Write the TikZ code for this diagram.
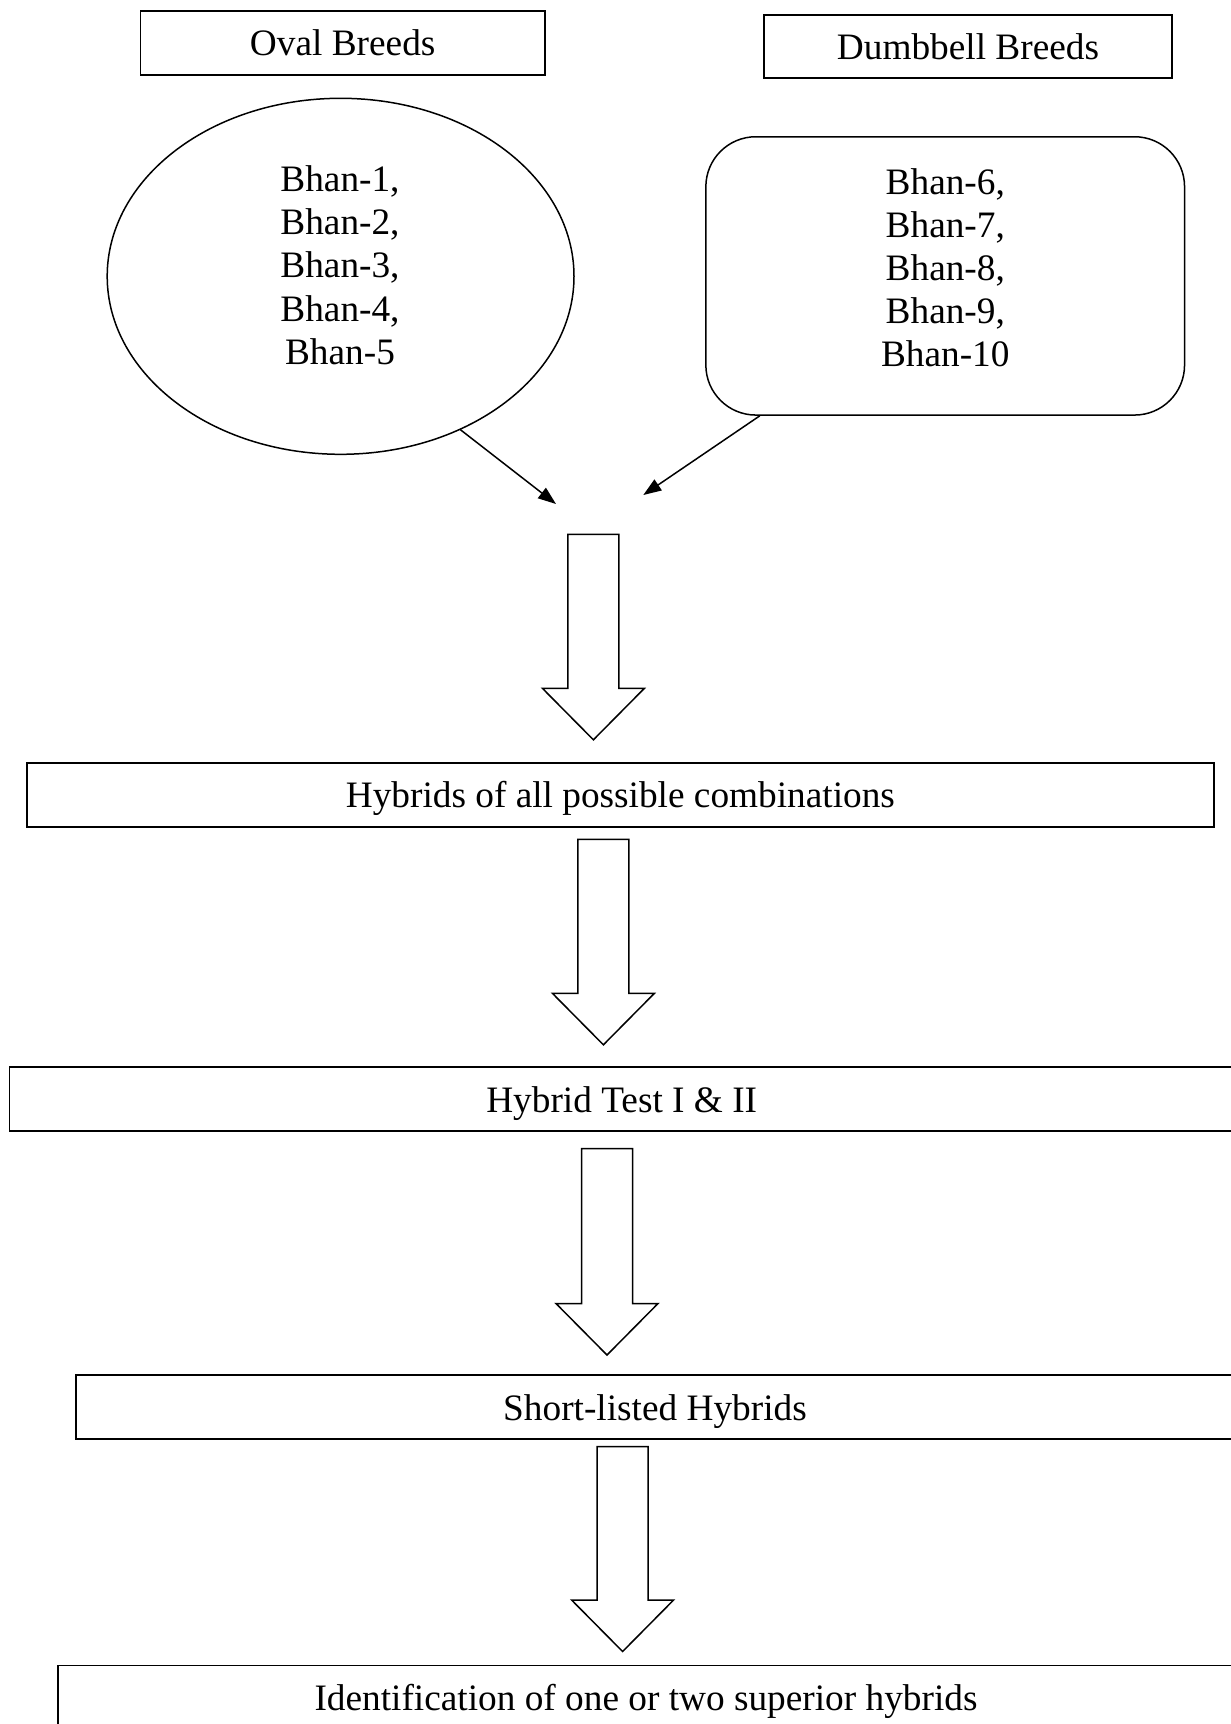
\documentclass[tikz,border=0pt]{standalone}
\usepackage{fontspec}
\setmainfont{Liberation Serif}
\usetikzlibrary{arrows.meta,calc,shapes.geometric}

% hollow downward block arrow: #1 = centre x, #2 = top y, #3 = tip y
\newcommand\hollowdown[3]{%
  \draw[blockline] (#1-25.5,#2) -- (#1+25.5,#2) -- (#1+25.5,#3-51.5)
    -- (#1+51,#3-51.5) -- (#1,#3) -- (#1-51,#3-51.5)
    -- (#1-25.5,#3-51.5) -- cycle;}

\begin{document}
\begin{tikzpicture}[x=1pt,y=-1pt,
  every node/.style={font=\fontsize{37.3}{43.1}\selectfont},
  boxline/.style={draw=black,line width=1.8pt},
  blockline/.style={draw=black,line width=1.5pt,line join=miter},
  titlebox/.style={boxline,rectangle,inner sep=0pt,text height=26pt,text depth=0pt},
  stagebox/.style={boxline,rectangle,inner sep=0pt,minimum height=64pt,text height=26pt,text depth=0pt},
  linkarrow/.style={line width=1.5pt,-{Triangle[length=18pt,width=13pt]}},
  listtext/.style={anchor=base,inner sep=0pt}]
\clip (0,0) rectangle (1231,1724);
\fill[white] (0,0) rectangle (1231,1724);

% group headings
\node[titlebox,minimum width=404.6pt,minimum height=64pt] (ovalhead) at (342.7,42.7) {Oval Breeds};
\node[titlebox,minimum width=408pt,minimum height=62.7pt] (dumbhead) at (968,46.4) {Dumbbell Breeds};

% the two groups of breeds
\node[draw=black,line width=1.5pt,ellipse,minimum width=466.8pt,minimum height=356pt,inner sep=0pt] (oval) at (340.6,276.3) {};
\node[draw=black,line width=1.5pt,rectangle,rounded corners=50pt,minimum width=478.7pt,minimum height=278.3pt,inner sep=0pt] (dumb) at (945.2,275.9) {};

\node[listtext] (ovallist) at (340,191.7)
  {\begin{tabular}[t]{@{}c@{}}Bhan-1,\\Bhan-2,\\Bhan-3,\\Bhan-4,\\Bhan-5\end{tabular}};
\node[listtext] (dumblist) at (945.3,194)
  {\begin{tabular}[t]{@{}c@{}}Bhan-6,\\Bhan-7,\\Bhan-8,\\Bhan-9,\\Bhan-10\end{tabular}};

% crossing of the two groups
\coordinate (meetL) at (556,504);
\coordinate (meetR) at (643.3,495);
\draw[linkarrow] (oval.-52.2) -- (meetL);
\draw[linkarrow] ($(dumb.south west)+(54.7,0)$) -- (meetR);

% breeding stages
\node[stagebox,minimum width=1187.3pt] (allhyb) at (620.4,794.6) {Hybrids of all possible combinations};
\node[stagebox,minimum width=1224.6pt] (test) at (621.7,1099.3) {Hybrid Test I \& II};
\node[stagebox,minimum width=1158pt] (short) at (655,1407) {Short-listed Hybrids};
\node[stagebox,minimum width=1176pt] (best) at (646,1697.5) {Identification of one or two superior hybrids};

% hollow arrows between stages
\hollowdown{593.4}{534.4}{739.8}
\hollowdown{603.4}{839.4}{1044.8}
\hollowdown{607}{1148.5}{1355}
\hollowdown{622.6}{1446.5}{1651.5}
\end{tikzpicture}
\end{document}
